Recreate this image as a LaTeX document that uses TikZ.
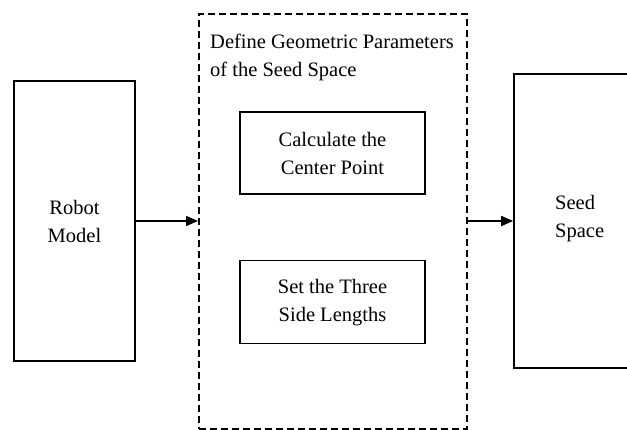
\documentclass[tikz,border=0pt]{standalone}
\usepackage{fontspec}
\setmainfont{Liberation Serif}
\usetikzlibrary{arrows.meta, positioning}

\begin{document}
\begin{tikzpicture}[
        x = 1pt, y = -1pt, % pixel-like units, y downwards
        > = {Triangle[length=12pt, width=10pt]},
        font = \fontsize{20.5}{28}\selectfont,
        block/.style = {draw, line width=1.6pt, align=center, inner sep=0pt},
        group/.style = {draw, line width=2pt, dash pattern=on 7pt off 4pt},
        link/.style = {->, line width=1.6pt}
    ]
        \clip (0,0) rectangle (627,429);
        \fill[white] (0,0) rectangle (627,429);

        % outer boxes
        \node[block, minimum width=121pt, minimum height=280pt] (robot) at (74.5,221) {Robot\\Model};
        \node[group, minimum width=268pt, minimum height=415pt] (params) at (333,221.5) {};
        \node[block, minimum width=160pt, minimum height=294pt] (seed) at (594,221) {};
        \node[align=left, anchor=west, inner sep=0pt] (seedtxt) at (555,219) {Seed\\Space};

        % title of the dashed group
        \node[align=left, anchor=north west, inner sep=0pt] (title) at (210,34)
            {Define Geometric Parameters\\of the Seed Space};

        % inner steps
        \node[block, minimum width=185pt, minimum height=82pt] (center) at (332.5,153) {Calculate the\\Center Point};
        \node[block, minimum width=185pt, minimum height=83pt] (sides) [below=65pt of center] {Set the Three\\Side Lengths};

        % connectors
        \draw[link] (robot.east) -- (robot.east -| params.west);
        \draw[link] (robot.east -| params.east) -- (robot.east -| seed.west);
    \end{tikzpicture}
\end{document}
